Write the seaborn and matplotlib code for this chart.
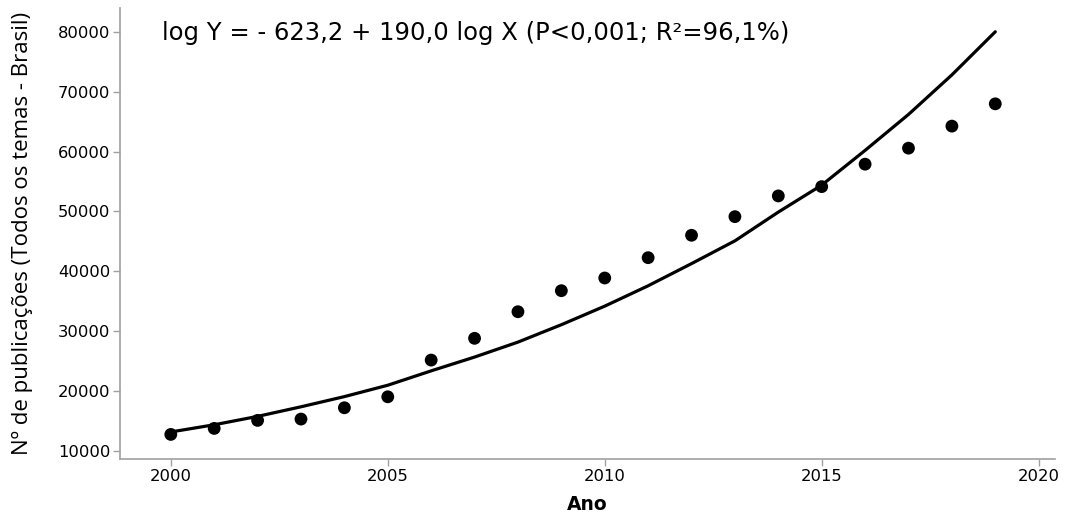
import matplotlib
matplotlib.use("Agg")
import matplotlib.pyplot as plt
import seaborn as sns
import pandas as pd

anos = list(range(2000, 2020))
publicacoes = [12790, 13790, 15130, 15350, 17240, 19070, 25200, 28830, 33270, 36780,
               38900, 42290, 46030, 49140, 52600, 54150, 57900, 60570, 64250, 67970]
# valores ajustados pela curva
ajustado = [13200, 14400, 15800, 17400, 19100, 21000, 23400, 25700, 28200, 31100,
            34200, 37600, 41300, 45100, 49900, 54400, 60200, 66200, 72800, 80000]

y_ticks = [10000, 20000, 30000, 40000, 50000, 60000, 70000, 80000]
x_ticks = [2000, 2005, 2010, 2015, 2020]
equacao = "log Y = - 623,2 + 190,0 log X (P<0,001; R²=96,1%)"

df = pd.DataFrame({"ano": anos, "pub": publicacoes, "fit": ajustado})

sns.set_style("white")
plt.rcParams["font.family"] = ["DejaVu Sans"]
plt.rcParams["text.color"] = "black"
plt.rcParams["axes.labelcolor"] = "black"
plt.rcParams["xtick.labelcolor"] = "black"
plt.rcParams["ytick.labelcolor"] = "black"

fig = plt.figure(figsize=(10.67, 5.2), dpi=100)
ax = fig.add_axes([0.1125, 0.117, 0.876, 0.868])

sns.lineplot(data=df, x="ano", y="fit", color="black", linewidth=2.3, ax=ax)
sns.scatterplot(data=df, x="ano", y="pub", color="black", s=85, edgecolor="none", ax=ax)

ax.set_xlim(1998.83, 2020.37)
ax.set_ylim(8660, 84000)
ax.set_xticks(x_ticks)
ax.set_yticks(y_ticks)
ax.tick_params(axis="both", direction="out", length=5, width=1, color="#a0a0a0",
               labelsize=11.8, pad=2, bottom=True, left=True)
for side in ["top", "right"]:
    ax.spines[side].set_visible(False)
for side in ["left", "bottom"]:
    ax.spines[side].set_color("#a0a0a0")
    ax.spines[side].set_linewidth(1.2)

ax.set_xlabel("Ano", fontsize=13.5, fontweight="bold", labelpad=8)
ax.set_ylabel("Nº de publicações (Todos os temas - Brasil)", fontsize=16,
              family="Open Sans", labelpad=18)

ax.text(2000 - 0.2, 79800, equacao, fontsize=17.5, va="center", ha="left")

fig.savefig("out.png", dpi=100)
